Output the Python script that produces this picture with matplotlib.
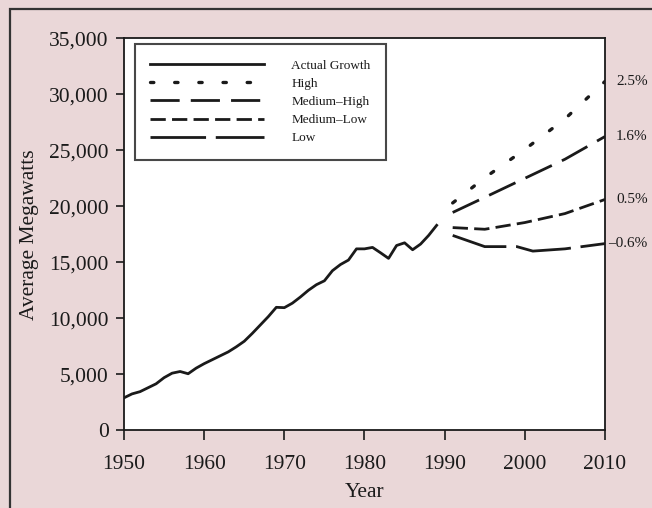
import matplotlib
matplotlib.use("Agg")
import matplotlib.pyplot as plt
from matplotlib.patches import Rectangle

# actual growth, 1950-1989 (average megawatts)
actual_years = list(range(1950, 1990))
actual_mw = [2900, 3250, 3450, 3800, 4150, 4700, 5100, 5250, 5050, 5550,
             5950, 6300, 6650, 7000, 7450, 7950, 8650, 9400, 10150, 10980,
             10950, 11350, 11900, 12500, 13000, 13350, 14250, 14800, 15200, 16200,
             16200, 16330, 15850, 15350, 16500, 16740, 16120, 16630, 17400, 18300]

# forecasts
fc_years = [1991, 1995, 2000, 2005, 2010]
high_mw = [20300, 22550, 25080, 27800, 31150]
medhigh_mw = [19450, 20800, 22500, 24200, 26230]
medlow_mw = [18100, 17950, 18550, 19350, 20610]
low_years = [1991, 1995, 1999, 2001, 2005, 2010]
low_mw = [17400, 16400, 16400, 16000, 16200, 16670]

rates = ["2.5%", "1.6%", "0.5%", "\u20130.6%"]

plt.rcParams['font.family'] = ['Liberation Serif', 'DejaVu Serif']
plt.rcParams['lines.scale_dashes'] = False

pink = '#ead7d8'
fig = plt.figure(figsize=(6.52, 5.08), dpi=100, facecolor=pink)
ax = fig.add_axes([124/652, 1 - 430.3/508, (605 - 124)/652, (430.3 - 38.3)/508])
ax.set_facecolor('white')

# outer frame of the scanned figure
fig.patches.append(Rectangle((10/652, -0.05), 1.0, 1 - 9/508 + 0.05,
                             transform=fig.transFigure, fill=False,
                             edgecolor='#333333', lw=1.6))

lw = 2.0
c = '#1a1a1a'
ax.plot(actual_years, actual_mw, color=c, lw=lw, label='Actual Growth')
ax.plot(fc_years, high_mw, color=c, lw=2.4, ls=(0, (2.4, 15)),
        dash_capstyle='round', label='High')
ax.plot(fc_years, medhigh_mw, color=c, lw=lw, ls=(0, (21, 8)), label='Medium\u2013High')
ax.plot(fc_years, medlow_mw, color=c, lw=lw, ls=(0, (11, 4.5)), label='Medium\u2013Low')
ax.plot(low_years, low_mw, color=c, lw=lw, ls=(0, (40, 7)), label='Low')

ends = [high_mw[-1], medhigh_mw[-1], medlow_mw[-1], low_mw[-1]]
for r, v in zip(rates, ends):
    dx = 2.5 if r.startswith('\u2013') else 8
    ax.annotate(r, (2010, v), xytext=(dx, 0), textcoords='offset points',
                ha='left', va='center', fontsize=11, color=c, annotation_clip=False)

ax.set_xlim(1950, 2010)
ax.set_ylim(0, 35000)
ax.set_xticks(range(1950, 2011, 10))
ax.set_yticks(range(0, 35001, 5000))
ax.set_yticklabels([f"{v:,}" for v in range(0, 35001, 5000)])
ax.tick_params(axis='x', direction='out', length=7, width=1.2, pad=11,
               labelsize=15.5, colors=c)
ax.tick_params(axis='y', direction='out', length=6, width=1.2, pad=5,
               labelsize=15.5, colors=c)
for s in ax.spines.values():
    s.set_linewidth(1.3)
    s.set_color(c)

ax.set_xlabel('Year', fontsize=15.5, color=c, labelpad=6)
ax.set_ylabel('Average Megawatts', fontsize=15.5, color=c, labelpad=7)

leg = ax.legend(loc='upper left', bbox_to_anchor=(11/481, 1 - 6/392),
                borderaxespad=0, fontsize=9.5, handlelength=8.6,
                handletextpad=2.1, labelspacing=0.45, borderpad=1.15,
                fancybox=False, frameon=True)
leg.get_frame().set_edgecolor(c)
leg.get_frame().set_linewidth(1.5)
for t in leg.get_texts():
    t.set_color(c)

fig.savefig('out.png', dpi=100, facecolor=pink)
